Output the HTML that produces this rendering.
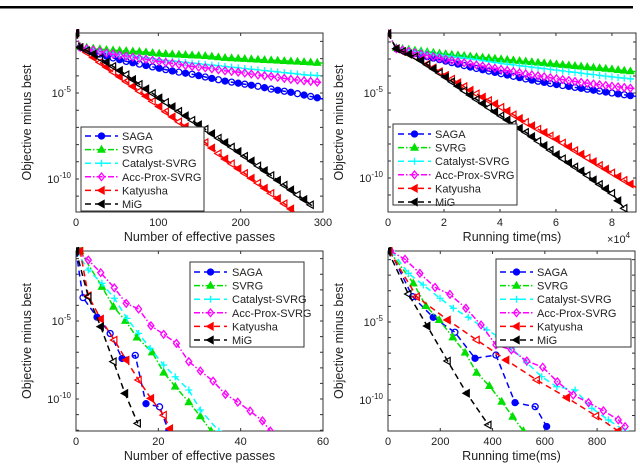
<!DOCTYPE html>
<html><head><meta charset="utf-8">
<style>
html,body{margin:0;padding:0;background:#fff;}
svg{display:block;font-family:"Liberation Sans",sans-serif;}
</style></head>
<body>
<svg id="fig" width="640" height="467" viewBox="0 0 640 467">
<rect x="0" y="0" width="640" height="467" fill="#fff"/>
<rect x="0" y="6" width="633" height="2.5" fill="#000"/>
</svg>
<script>
// ---- Top-left: objective vs effective passes ----
const TL_X = [0,5,20,40,60,80,100,120,140,160,180,200,220,240,260,280,300];
const TL_SAGA = [-1.5,-2.35,-2.6,-2.9,-3.15,-3.35,-3.55,-3.75,-3.9,-4.1,-4.3,-4.45,-4.6,-4.8,-4.95,-5.15,-5.35];
const TL_SVRG = [-1.5,-2.3,-2.4,-2.5,-2.55,-2.6,-2.7,-2.75,-2.8,-2.85,-2.95,-3.0,-3.05,-3.1,-3.15,-3.2,-3.26];
const TL_CAT = [-1.5,-2.35,-2.5,-2.65,-2.8,-2.9,-3.05,-3.15,-3.25,-3.35,-3.45,-3.55,-3.65,-3.75,-3.85,-3.95,-4.0];
const TL_ACC = [-1.5,-2.35,-2.5,-2.7,-2.85,-3.0,-3.15,-3.3,-3.45,-3.55,-3.7,-3.8,-3.95,-4.05,-4.2,-4.3,-4.4];
const TL_KAT_X = [0,5,20,40,60,80,100,120,140,160,180,200,220,240,260,265];
const TL_KAT = [-1.5,-2.35,-2.9,-3.6,-4.3,-5.0,-5.75,-6.5,-7.2,-8.0,-8.8,-9.5,-10.2,-10.95,-11.7,-11.9];
const TL_MIG_X = [0,5,20,40,60,80,100,120,140,160,180,200,220,240,260,280,290];
const TL_MIG = [-1.5,-2.35,-2.7,-3.3,-3.9,-4.6,-5.25,-5.9,-6.55,-7.2,-7.85,-8.5,-9.2,-9.9,-10.6,-11.3,-11.7];
const TL_XTICKS = [0,100,200,300];

// ---- Top-right: objective vs running time (x1e4 ms) ----
const TR_X = [0,0.3,1,2,3,4,5,6,7,8,8.86];
const TR_SAGA = [-1.5,-2.4,-2.7,-3.1,-3.5,-3.85,-4.2,-4.5,-4.75,-5.0,-5.2];
const TR_SVRG = [-1.5,-2.35,-2.5,-2.7,-2.85,-3.0,-3.15,-3.3,-3.45,-3.6,-3.75];
const TR_CAT = [-1.5,-2.35,-2.55,-2.8,-3.0,-3.25,-3.45,-3.65,-3.85,-4.05,-4.2];
const TR_ACC = [-1.5,-2.4,-2.65,-3.0,-3.3,-3.6,-3.9,-4.15,-4.4,-4.6,-4.75];
const TR_KAT = [-1.5,-2.4,-2.9,-3.9,-4.9,-5.8,-6.8,-7.7,-8.7,-9.7,-10.55];
const TR_MIG_X = [0,0.3,1,2,3,4,5,6,7,8,8.55];
const TR_MIG = [-1.5,-2.4,-2.9,-4.0,-5.2,-6.3,-7.4,-8.6,-9.7,-10.9,-12.0];
const TR_XTICKS = [0,2,4,6,8];

// ---- Bottom-left: effective passes ----
const BL_SAGA_X = [0,1.7,5.1,8.3,11.2,14.4,17,20.3,22.5];
const BL_SAGA = [-0.5,-3.5,-4.75,-5.8,-7.4,-7.2,-10.3,-10.5,-12.05];
const BL_SVRG_X = [1,6.3,9.1,12,14.8,18.5,21.3,24.1,27.4,30.2,32.8];
const BL_SVRG = [-0.51,-2.8,-4.08,-4.98,-6.05,-7.0,-8.3,-9.2,-10.2,-11.1,-12.05];
const BL_CAT_X = [0,3.0,6.3,9.3,12.4,15.2,18,21.3,24.1,27.4,30.2,34.7];
const BL_CAT = [-0.5,-1.73,-2.58,-3.54,-4.83,-5.79,-6.75,-7.82,-8.57,-9.42,-10.7,-12.05];
const BL_ACC_X = [0,3.0,6.0,9.3,12.2,15.2,18.2,21.3,24.4,27.4,30.2,33.3,36.3,39.3,42.3,45.3,47.2];
const BL_ACC = [-0.5,-1.09,-1.9,-2.87,-3.87,-4.23,-5.3,-5.85,-6.43,-7.6,-8.2,-8.85,-9.7,-10.2,-10.77,-11.4,-12.05];
const BL_KAT_X = [1,3,6,9.3,12.2,15.2,18.2,21.3,22.8];
const BL_KAT = [-0.5,-3.38,-4.87,-6.22,-7.5,-8.78,-9.96,-11.03,-11.9];
const BL_MIG_X = [0,3.0,6.0,9.1,11.9,15.0];
const BL_MIG = [-0.5,-3.44,-5.36,-7.6,-9.64,-11.56];
const BL_XTICKS = [0,20,40,60];

// ---- Bottom-right: running time (ms) ----
const BR_SAGA_X = [8,94,173,256,333,413,486,563,607];
const BR_SAGA = [-0.45,-3.38,-4.7,-5.66,-7.33,-7.12,-10.17,-10.43,-11.7];
const BR_SVRG_X = [5,97,145,196,248,295,339,388,435,477,518];
const BR_SVRG = [-0.45,-2.52,-3.97,-4.87,-5.98,-6.96,-8.25,-9.1,-10.11,-11.07,-11.99];
const BR_CAT_X = [14,78,135,199,250,307,378,422,473,531,588,646,716,780,843,907];
const BR_CAT = [-0.45,-1.88,-2.63,-3.48,-4.12,-4.7,-5.51,-5.94,-6.69,-7.61,-8.51,-9.15,-9.36,-10.53,-11.28,-11.99];
const BR_ACC_X = [10,65,122,180,237,298,356,413,472,531,592,648,709,767,824,881,907];
const BR_ACC = [-0.45,-0.98,-1.88,-2.78,-3.23,-4.12,-5.19,-6.47,-6.79,-7.5,-7.9,-8.83,-9.68,-10.17,-10.69,-11.28,-11.71];
const BR_KAT_X = [5,110,228,339,452,569,684,796,881];
const BR_KAT = [-0.45,-3.38,-4.87,-6.15,-7.44,-8.72,-9.85,-11.03,-11.99];
const BR_MIG_X = [0,78,150,228,301,384];
const BR_MIG = [-0.45,-3.21,-5.26,-7.5,-9.57,-11.6];
const BR_XTICKS = [0,200,400,600,800];

const NAMES = ["SAGA","SVRG","Catalyst-SVRG","Acc-Prox-SVRG","Katyusha","MiG"];
const COLORS = ["#0000ff","#00e000","#00ffff","#ff00ff","#ff0000","#000000"];
const MARKERS = ["circle","tri","plus","diamond","ltri","ltri"];
const DASHES = ["6,4","6,2,1.5,2","6,4","6,2,1.5,2","6,4","6,4"];

const NS = "http://www.w3.org/2000/svg";
const svg = document.getElementById("fig");
function mk(tag, attrs, parent){
  const e = document.createElementNS(NS, tag);
  for (const k in attrs) e.setAttribute(k, attrs[k]);
  (parent||svg).appendChild(e);
  return e;
}

const plots = [
  {id:"top-left", l:76,r:323,t:33,b:212,xmax:300,ymin:-11.92,ymax:-1.51,ticks:TL_XTICKS,step:8,
   series:[[TL_X,TL_SAGA],[TL_X,TL_SVRG],[TL_X,TL_CAT],[TL_X,TL_ACC],[TL_KAT_X,TL_KAT],[TL_MIG_X,TL_MIG]],
   xlabel:"Number of effective passes", xlabelY:241, leg:{x:81,y:127,w:123,h:84,lx:85,tx:122,fy:136}},
  {id:"top-right", l:388,r:636,t:33,b:212,xmax:8.86,ymin:-12,ymax:-1.47,ticks:TR_XTICKS,step:0.22,
   series:[[TR_X,TR_SAGA],[TR_X,TR_SVRG],[TR_X,TR_CAT],[TR_X,TR_ACC],[TR_X,TR_KAT],[TR_MIG_X,TR_MIG]],
   xlabel:"Running time(ms)", xlabelY:241, exp:true, leg:{x:393,y:124,w:124,h:81,lx:398,tx:435,fy:134}},
  {id:"bottom-left", l:76,r:323,t:251,b:431,xmax:60,ymin:-12.05,ymax:-0.51,ticks:BL_XTICKS,
   series:[[BL_SAGA_X,BL_SAGA],[BL_SVRG_X,BL_SVRG],[BL_CAT_X,BL_CAT],[BL_ACC_X,BL_ACC],[BL_KAT_X,BL_KAT],[BL_MIG_X,BL_MIG]],
   xlabel:"Number of effective passes", xlabelY:460, leg:{x:190,y:262,w:114,h:85,lx:194,tx:232,fy:272}},
  {id:"bottom-right", l:388,r:635,t:251,b:431,xmax:945,ymin:-11.99,ymax:-0.45,ticks:BR_XTICKS,
   series:[[BR_SAGA_X,BR_SAGA],[BR_SVRG_X,BR_SVRG],[BR_CAT_X,BR_CAT],[BR_ACC_X,BR_ACC],[BR_KAT_X,BR_KAT],[BR_MIG_X,BR_MIG]],
   xlabel:"Running time(ms)", xlabelY:460, leg:{x:496,y:259,w:135,h:88,lx:500,tx:537,fy:272}}
];

function marker(g, type, x, y, color, filled){
  const fill = filled ? color : "none";
  let e;
  if (type==="circle") e = mk("circle",{cx:x,cy:y,r:3,fill:fill,stroke:color,"stroke-width":1.3},g);
  else if (type==="tri") e = mk("polygon",{points:`${x},${y-3.8} ${x-3.6},${y+2.6} ${x+3.6},${y+2.6}`,fill:color,stroke:color,"stroke-width":1},g);
  else if (type==="plus") e = mk("path",{d:`M${x-3.5},${y}H${x+3.5}M${x},${y-3.5}V${y+3.5}`,stroke:color,"stroke-width":1.3,fill:"none"},g);
  else if (type==="diamond") e = mk("polygon",{points:`${x},${y-3.8} ${x+3},${y} ${x},${y+3.8} ${x-3},${y}`,fill:"none",stroke:color,"stroke-width":1.3},g);
  else e = mk("polygon",{points:`${x-3.8},${y} ${x+2.6},${y-3.6} ${x+2.6},${y+3.6}`,fill:fill,stroke:color,"stroke-width":1.2},g);
  
  
}

function interp(xs, ys, x){
  for (let i=1;i<xs.length;i++){
    if (x <= xs[i]) { const f=(x-xs[i-1])/(xs[i]-xs[i-1]); return ys[i-1]+f*(ys[i]-ys[i-1]); }
  }
  return ys[ys.length-1];
}

plots.forEach((p, pi) => {
  const g = mk("g",{});
  
  
  const sx = v => p.l + (v/p.xmax)*(p.r-p.l);
  const sy = v => p.t + (p.ymax - v)/(p.ymax - p.ymin)*(p.b-p.t);
  const cid = "clip"+pi;
  const cp = mk("clipPath",{id:cid},g);
  mk("rect",{x:p.l,y:p.t-4,width:p.r-p.l+4,height:p.b-p.t+4},cp);

  const box = mk("rect",{x:p.l,y:p.t,width:p.r-p.l,height:p.b-p.t,fill:"none",stroke:"#333","stroke-width":1},g);
  
  

  for (let d = Math.ceil(p.ymin); d <= Math.floor(p.ymax); d++) {
    const y = sy(d);
    const t = mk("path",{d:`M${p.l},${y}h3M${p.r},${y}h-3`,stroke:"#333","stroke-width":1},g);
    
    
    if (d === -5 || d === -10) {
      const tx = mk("text",{x:p.l-5,y:y+4,"text-anchor":"end","font-size":11,fill:"#222"},g);
      
      
      tx.appendChild(document.createTextNode("10"));
      const sup = mk("tspan",{dy:-5,"font-size":8},tx);
      sup.textContent = String(d);
    }
  }
  p.ticks.forEach(v => {
    const x = sx(v);
    const t = mk("path",{d:`M${x},${p.b}v-3M${x},${p.t}v3`,stroke:"#333","stroke-width":1},g);
    
    
    const tx = mk("text",{x:x,y:p.b+14,"text-anchor":"middle","font-size":11,fill:"#222"},g);
    
    
    tx.textContent = String(v);
  });
  const xl = mk("text",{x:(p.l+p.r)/2,y:p.xlabelY,"text-anchor":"middle","font-size":12.5,fill:"#222"},g);
  
  
  xl.textContent = p.xlabel;
  const yl = mk("text",{x:0,y:0,"text-anchor":"middle","font-size":12.5,fill:"#222",transform:`translate(${p.l-45},${(p.t+p.b)/2}) rotate(-90)`},g);
  
  
  yl.textContent = "Objective minus best";
  if (p.exp) {
    const ex = mk("text",{x:p.r-29,y:p.b+31,"font-size":11,fill:"#222"},g);
    
    
    ex.appendChild(document.createTextNode("\u00d710"));
    const s = mk("tspan",{dy:-5,"font-size":8},ex);
    s.textContent = "4";
  }

  p.series.forEach((s, si) => {
    const xs = s[0], ys = s[1];
    const sg = mk("g",{"clip-path":`url(#${cid})`},g);
    
    
    const pts = xs.map((x,i)=>`${sx(x).toFixed(1)},${sy(ys[i]).toFixed(1)}`).join(" ");
    const ln = mk("polyline",{points:pts,fill:"none",stroke:COLORS[si],"stroke-width":1.5,"stroke-dasharray":DASHES[si]},sg);
    
    
    if (p.step) {
      // markers placed along the line at regular x spacing
      const xEnd = xs[xs.length-1];
      let k = 0;
      marker(sg, MARKERS[si], sx(xs[0]), sy(ys[0]), COLORS[si], true);
      for (let x = xs[1]; x <= xEnd + 1e-9; x += p.step, k++) {
        marker(sg, MARKERS[si], sx(x), sy(interp(xs, ys, x)), COLORS[si], k%2===0);
      }
    } else {
      xs.forEach((x,i)=> marker(sg, MARKERS[si], sx(x), sy(ys[i]), COLORS[si], i%2===0));
    }
  });

  const L = p.leg;
  const lg = mk("g",{},g);
  
  
  mk("rect",{x:L.x,y:L.y,width:L.w,height:L.h,fill:"#fff",stroke:"#333","stroke-width":1},lg);
  NAMES.forEach((n, si) => {
    const y = L.fy + si*13.6;
    const eg = mk("g",{},lg);
    
    
    mk("line",{x1:L.lx,y1:y,x2:L.lx+33,y2:y,stroke:COLORS[si],"stroke-width":1.5,"stroke-dasharray":DASHES[si]},eg);
    marker(eg, MARKERS[si], L.lx+16.5, y, COLORS[si], true);
    const t = mk("text",{x:L.tx,y:y+4,"font-size":11,fill:"#222"},eg);
    
    
    t.textContent = n;
  });
});
</script>
</body></html>
